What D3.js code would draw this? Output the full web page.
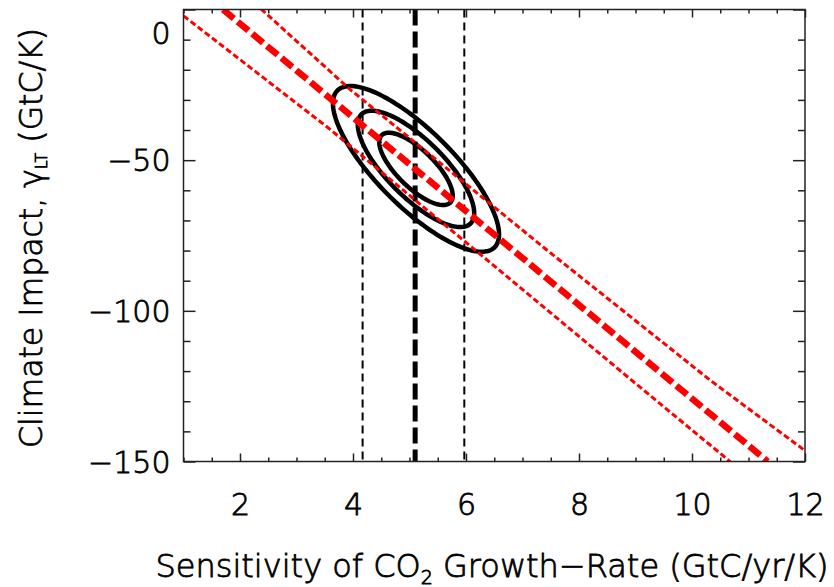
<!DOCTYPE html>
<html>
<head>
<meta charset="utf-8">
<script src="https://cdn.jsdelivr.net/npm/d3@7/dist/d3.min.js"></script>
<style>
  html, body { margin: 0; padding: 0; background: #fff; }
  svg { display: block; }
  text { font-family: "DejaVu Sans", sans-serif; fill: #000; font-weight: 200; stroke: #000; stroke-width: 0.8px; }
</style>
</head>
<body>
<svg id="chart" width="834" height="587"></svg>
<script>
// ---- data ----
const xTickValues = [2, 4, 6, 8, 10, 12];
const yTickValues = [0, -50, -100, -150];

const centralLineX = [1.70, 11.34];
const centralLineY = [0.0, -150.0];
const upperBandX = [2.37, 3.94, 7.43, 10.32, 12.0];
const upperBandY = [0.2, -26.4, -79.8, -123.0, -146.4];
const lowerBandX = [1.0, 3.59, 8.93, 10.68];
const lowerBandY = [-2.1, -39.7, -123.0, -150.1];

const bestEstimateX = 5.10;
const rangeX = [4.17, 5.97];

const ellipseCenter = [5.115, -52.9];
const ellipseHalfX = [0.65, 1.03, 1.47];
const ellipseHalfY = [12.0, 19.3, 27.5];
const ellipseRho = [-0.74, -0.76, -0.79];

// ---- layout ----
const svg = d3.select("#chart");
const L = 183.5, R = 805, T = 9.5, B = 461.5;
const x = d3.scaleLinear().domain([1, 12]).range([L, R]);
const y = d3.scaleLinear().domain([-150, 0]).range([B, T]);

svg.append("defs").append("clipPath").attr("id", "plotclip")
  .append("rect").attr("x", L).attr("y", T).attr("width", R - L).attr("height", B - T);

const plot = svg.append("g").attr("clip-path", "url(#plotclip)");

// ellipses
const tSamples = d3.range(0, 360, 2).map(d => d * Math.PI / 180);
const ellLine = d3.line().x(d => x(d[0])).y(d => y(d[1])).curve(d3.curveLinearClosed);
ellipseHalfX.forEach((hx, i) => {
  const hy = ellipseHalfY[i], r = ellipseRho[i];
  const pts = tSamples.map(t => [
    ellipseCenter[0] + hx * Math.cos(t),
    ellipseCenter[1] + hy * (r * Math.cos(t) + Math.sqrt(1 - r * r) * Math.sin(t))
  ]);
  plot.append("path").attr("d", ellLine(pts))
    .attr("fill", "none").attr("stroke", "#000").attr("stroke-width", 4.5);
});

// vertical lines
rangeX.forEach(v => {
  plot.append("line").attr("x1", x(v)).attr("x2", x(v)).attr("y1", T).attr("y2", B)
    .attr("stroke", "#000").attr("stroke-width", 2).attr("stroke-dasharray", "8,5");
});
plot.append("line").attr("x1", x(bestEstimateX)).attr("x2", x(bestEstimateX)).attr("y1", T).attr("y2", B)
  .attr("stroke", "#000").attr("stroke-width", 5).attr("stroke-dasharray", "16,6");

// red lines
const line = d3.line().x(d => x(d[0])).y(d => y(d[1]));
const zip = (a, b) => a.map((v, i) => [v, b[i]]);
plot.append("path").attr("d", line(zip(upperBandX, upperBandY)))
  .attr("fill", "none").attr("stroke", "#ff0000").attr("stroke-width", 3).attr("stroke-dasharray", "6,3");
plot.append("path").attr("d", line(zip(lowerBandX, lowerBandY)))
  .attr("fill", "none").attr("stroke", "#ff0000").attr("stroke-width", 3).attr("stroke-dasharray", "6,3");
plot.append("path").attr("d", line(zip(centralLineX, centralLineY)))
  .attr("fill", "none").attr("stroke", "#ff0000").attr("stroke-width", 6.5).attr("stroke-dasharray", "14,5");

// ---- axes ----
const axisColor = "#222";
const xMinor = d3.range(1, 12.001, 0.5).filter(v => !xTickValues.includes(v));
const yMinor = d3.range(-150, 0.001, 10).filter(v => !yTickValues.includes(v));

function styleAxis(g) {
  g.select(".domain").remove();
  g.selectAll(".tick line").attr("stroke", axisColor).attr("stroke-width", 1.5);
  g.selectAll("text").style("font-family", '"DejaVu Sans", sans-serif').style("font-size", "30px")
    .style("font-weight", "200").attr("fill", "#000");
}

// bottom
svg.append("g").attr("transform", `translate(0,${B})`)
  .call(d3.axisBottom(x).tickValues(xTickValues).tickSizeInner(-8).tickSizeOuter(0).tickPadding(32).tickFormat(d3.format("d")))
  .call(styleAxis);
svg.append("g").attr("transform", `translate(0,${B})`)
  .call(d3.axisBottom(x).tickValues(xMinor).tickSizeInner(-4).tickSizeOuter(0).tickFormat(""))
  .call(styleAxis);
// top
svg.append("g").attr("transform", `translate(0,${T})`)
  .call(d3.axisTop(x).tickValues(xTickValues).tickSizeInner(-8).tickSizeOuter(0).tickFormat(""))
  .call(styleAxis);
svg.append("g").attr("transform", `translate(0,${T})`)
  .call(d3.axisTop(x).tickValues(xMinor).tickSizeInner(-4).tickSizeOuter(0).tickFormat(""))
  .call(styleAxis);
// left
const yAx = svg.append("g").attr("transform", `translate(${L},0)`)
  .call(d3.axisLeft(y).tickValues(yTickValues).tickSizeInner(-12).tickSizeOuter(0).tickPadding(13)
    .tickFormat(d => d < 0 ? "\u2212" + Math.abs(d) : String(d)))
  .call(styleAxis);
yAx.selectAll(".tick text").attr("dy", d => d === 0 ? "1.12em" : "0.36em");
svg.append("g").attr("transform", `translate(${L},0)`)
  .call(d3.axisLeft(y).tickValues(yMinor).tickSizeInner(-7).tickSizeOuter(0).tickFormat(""))
  .call(styleAxis);
// right
svg.append("g").attr("transform", `translate(${R},0)`)
  .call(d3.axisRight(y).tickValues(yTickValues).tickSizeInner(-12).tickSizeOuter(0).tickFormat(""))
  .call(styleAxis);
svg.append("g").attr("transform", `translate(${R},0)`)
  .call(d3.axisRight(y).tickValues(yMinor).tickSizeInner(-7).tickSizeOuter(0).tickFormat(""))
  .call(styleAxis);

// frame
svg.append("rect").attr("x", L).attr("y", T).attr("width", R - L).attr("height", B - T)
  .attr("fill", "none").attr("stroke", axisColor).attr("stroke-width", 1.5);

// ---- titles ----
const xt = svg.append("text").attr("x", 492).attr("y", 577).attr("text-anchor", "middle")
  .style("font-size", "32px");
xt.append("tspan").text("Sensitivity of CO");
xt.append("tspan").text("2").style("font-size", "19px").attr("dy", 7);
xt.append("tspan").text(" Growth\u2212Rate (GtC/yr/K)").attr("dy", -7);

const yt = svg.append("text").attr("transform", "translate(42,238) rotate(-90)")
  .attr("text-anchor", "middle").style("font-size", "31.5px");
yt.append("tspan").text("Climate Impact, \u03B3");
yt.append("tspan").text("LT").style("font-size", "16px").attr("dy", 5);
yt.append("tspan").text(" (GtC/K)").attr("dy", -5);
</script>
</body>
</html>
